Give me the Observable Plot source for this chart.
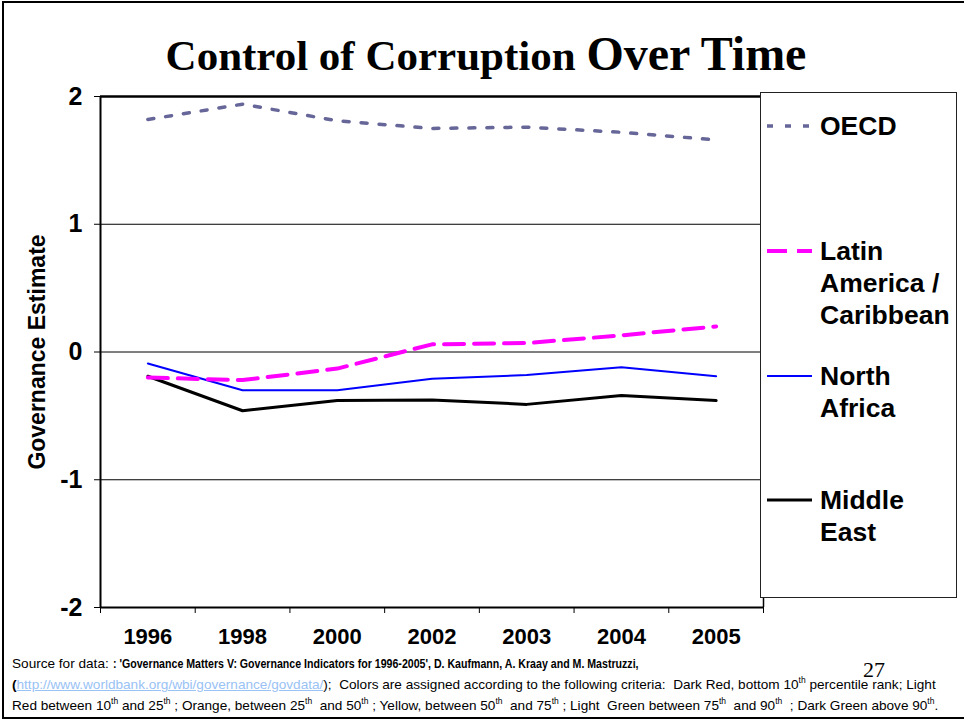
<!DOCTYPE html>
<html>
<head>
<meta charset="utf-8">
<script src="https://cdn.jsdelivr.net/npm/d3@7"></script>
<script src="https://cdn.jsdelivr.net/npm/@observablehq/plot@0.6"></script>
<style>
  html, body { margin: 0; padding: 0; background: #fff; }
  #page { position: relative; width: 964px; height: 721px; overflow: hidden; background: #fff; font-family: "Liberation Sans", Arial, sans-serif; }
  #frame { position: absolute; left: 2px; top: 1px; width: 970px; height: 718px; border: 2.5px solid #000; box-sizing: border-box; }
  #title { position: absolute; left: 0; width: 972px; top: 30px; text-align: center; font-family: "Liberation Serif", "Times New Roman", serif; font-weight: bold; color: #000; white-space: nowrap; line-height: 1; }
  #title .a { font-size: 43px; }
  #title .b { font-size: 48px; }
  #chart { position: absolute; left: 0; top: 0; }
  #legend { position: absolute; left: 760px; top: 92px; width: 197px; height: 506px; border: 1.5px solid #222; box-sizing: border-box; background: #fff; }
  .entry { position: absolute; left: 820px; font-weight: bold; font-size: 26.5px; line-height: 32px; color: #000; white-space: nowrap; }
  .swatch { position: absolute; left: 766px; }
  #source { position: absolute; left: 12px; top: 653px; font-size: 13.6px; line-height: 21px; color: #000; white-space: nowrap; }
  #source .narrow { display: inline-block; transform: scaleX(0.78); transform-origin: 0 50%; font-weight: bold; }
  #source a { color: #99c2f5; text-decoration: underline; }
  #source sup { font-size: 8.5px; line-height: 0; }
  #pagenum { position: absolute; left: 863px; top: 659px; font-family: "Liberation Serif", "Times New Roman", serif; font-size: 22px; line-height: 1; color: #000; }
</style>
</head>
<body>
<div id="page">
  <div id="frame"></div>
  <div id="chart"></div>
  <div id="title"><span class="a">Control of Corruption </span><span class="b">Over Time</span></div>
  <div id="legend"></div>
  <div id="legendItems"></div>
  <div id="source">Source for data: <span class="narrow">: 'Governance Matters V: Governance Indicators for 1996-2005', D. Kaufmann, A. Kraay and M. Mastruzzi,</span><br><b>(</b><a>http://www.worldbank.org/wbi/governance/govdata/</a>);&nbsp; Colors are assigned according to the following criteria:&nbsp; Dark Red, bottom 10<sup>th</sup> percentile rank; Light<br>Red between 10<sup>th</sup> and 25<sup>th</sup> ; Orange, between 25<sup>th</sup>&nbsp; and 50<sup>th</sup> ; Yellow, between 50<sup>th</sup>&nbsp; and 75<sup>th</sup> ; Light&nbsp; Green between 75<sup>th</sup>&nbsp; and 90<sup>th</sup>&nbsp; ; Dark Green above 90<sup>th</sup>.</div>
  <div id="pagenum">27</div>
</div>
<script>
// ---- data ----
const years = ["1996", "1998", "2000", "2002", "2003", "2004", "2005"];
const oecd = [1.82, 1.94, 1.81, 1.75, 1.76, 1.72, 1.66];
const latinAmerica = [-0.20, -0.22, -0.13, 0.06, 0.07, 0.13, 0.20];
const northAfrica = [-0.09, -0.30, -0.30, -0.21, -0.18, -0.12, -0.19];
const middleEast = [-0.19, -0.46, -0.38, -0.375, -0.41, -0.34, -0.38];
const yTicks = [-2, -1, 0, 1, 2];
const gridValues = [-1, 0, 1];
const seriesNames = ["OECD", "Latin America / Caribbean", "North Africa", "Middle East"];
const seriesLabels = [["OECD"], ["Latin", "America /", "Caribbean"], ["North", "Africa"], ["Middle", "East"]];
const seriesColors = ["#666699", "#ff00ff", "#0000ff", "#000000"];
const seriesWidths = [3.5, 4, 2, 3];
const seriesDash = ["6,12", "20,10", null, null];
const yLabel = "Governance Estimate";

const rows = (vals) => vals.map((v, i) => ({i, year: years[i], v}));
const allSeries = [oecd, latinAmerica, northAfrica, middleEast];
const idx = d3.range(years.length);
const bounds = d3.range(years.length + 1).map(i => i - 0.5);

const axisFont = {fontFamily: "Liberation Sans, Arial, sans-serif", fontWeight: "bold"};

const lineMarks = [3, 2, 1, 0].map(k => Plot.line(rows(allSeries[k]), {
  x: "i", y: "v",
  stroke: seriesColors[k],
  strokeWidth: seriesWidths[k],
  strokeDasharray: seriesDash[k] || undefined,
  strokeLinejoin: "round"
}));

const chart = Plot.plot({
  width: 964,
  height: 660,
  marginLeft: 100,
  marginRight: 201,
  marginTop: 96,
  marginBottom: 53,
  style: {background: "transparent", color: "#000", fontFamily: "Liberation Sans, Arial, sans-serif"},
  x: {type: "linear", domain: [-0.5, years.length - 0.5], label: null},
  y: {domain: [-2, 2], label: null},
  marks: [
    Plot.ruleY(gridValues, {stroke: "#000", strokeWidth: 1}),
    Plot.ruleY([2], {stroke: "#000", strokeWidth: 2.5}),
    Plot.ruleX([years.length - 0.5], {stroke: "#000", strokeWidth: 1.5}),
    ...lineMarks,
    Plot.ruleY([-2], {stroke: "#000", strokeWidth: 2}),
    Plot.ruleX([-0.5], {stroke: "#000", strokeWidth: 2}),
    Plot.axisY({ticks: yTicks, tickSize: 6, tickPadding: 12, tickFormat: d => String(d), fontSize: 25, label: null, ...axisFont}),
    Plot.axisX({ticks: bounds, tickSize: 6, tickFormat: () => "", label: null}),
    Plot.axisX({ticks: idx, tickSize: 0, tickPadding: 21, tickFormat: i => years[i], fontSize: 22, label: null, ...axisFont}),
    Plot.text([yLabel], {frameAnchor: "left", rotate: -90, dx: -63, fontSize: 23, textAnchor: "middle", lineAnchor: "middle", ...axisFont})
  ]
});
document.getElementById("chart").appendChild(chart);

// ---- legend entries ----
const entryCenters = [126, 251, 376, 500];
const items = document.getElementById("legendItems");
seriesNames.forEach((name, k) => {
  const c = entryCenters[k];
  const sw = d3.create("svg").attr("class", "swatch").attr("width", 48).attr("height", 10)
    .style("top", (c - 5) + "px");
  sw.append("line").attr("x1", 1).attr("x2", 46).attr("y1", 5).attr("y2", 5)
    .attr("stroke", seriesColors[k]).attr("stroke-width", seriesWidths[k])
    .attr("stroke-dasharray", seriesDash[k]);
  items.appendChild(sw.node());
  const t = document.createElement("div");
  t.className = "entry";
  t.style.top = (c - 16) + "px";
  t.innerHTML = seriesLabels[k].join("<br>");
  t.title = name;
  items.appendChild(t);
});
</script>
</body>
</html>
